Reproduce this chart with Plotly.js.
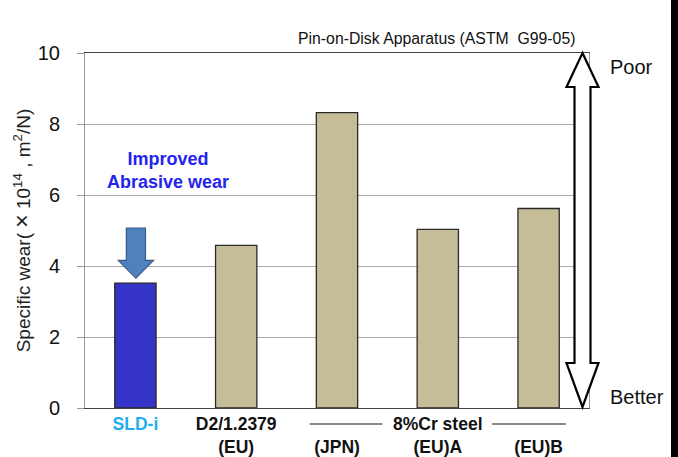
<!DOCTYPE html>
<html>
<head>
<meta charset="utf-8">
<script src="https://cdn.plot.ly/plotly-3.0.1.min.js"></script>
<style>html,body{margin:0;padding:0;background:#fff;}#chart{width:678px;height:457px;}</style>
</head>
<body>
<div id="chart"></div>
<script>
// ---- data ----
const categories = ["SLD-i", "D2/1.2379 (EU)", "8%Cr steel (JPN)", "8%Cr steel (EU)A", "8%Cr steel (EU)B"];
const wearValues = [3.52, 4.58, 8.32, 5.03, 5.62];
const tickLine1 = ["SLD-i", "D2/1.2379", "", "", ""];
const tickLine2 = ["", "(EU)", "(JPN)", "(EU)A", "(EU)B"];
const yTicks = [0, 2, 4, 6, 8, 10];
const groupLabel = "8%Cr steel";
const chartTitle = "Pin-on-Disk Apparatus (ASTM  G99-05)";
const yTitle = "Specific wear( <span style=\"font-size:23px\">×</span> 10<sup>14</sup> , m<sup>2</sup>/N)";

// ---- build ----
const xIdx = categories.map((c, i) => i);
const barColors = categories.map((c, i) => i === 0 ? "#3434C8" : "#C4BD97");
const tickText = categories.map((c, i) => {
  const l1 = tickLine1[i], l2 = tickLine2[i];
  const col = i === 0 ? "#20AEEE" : "#111";
  let s = l1 ? `<span style="color:${col}"><b>${l1}</b></span>` : "\u00a0";
  if (l2) s += `<br><b>${l2}</b>`;
  return s;
});

// plot geometry helpers (for decorations only)
const M = {l: 85, r: 89, t: 53, b: 49};
const W = 678, H = 457;
const pw = W - M.l - M.r, ph = H - M.t - M.b;
const px = x => (x - M.l) / pw;   // pixel -> paper x
const py = y => (H - M.b - y) / ph; // pixel -> paper y

// big white double arrow (Poor <-> Better)
const ax = [566.5, 574.5, 582.5, 590.5, 598.5];
const ay = [53, 87, 363, 407];
const dbl = `M ${px(ax[2])} ${py(ay[0])} L ${px(ax[4])} ${py(ay[1])} L ${px(ax[3])} ${py(ay[1])} L ${px(ax[3])} ${py(ay[2])} L ${px(ax[4])} ${py(ay[2])} L ${px(ax[2])} ${py(ay[3])} L ${px(ax[0])} ${py(ay[2])} L ${px(ax[1])} ${py(ay[2])} L ${px(ax[1])} ${py(ay[1])} L ${px(ax[0])} ${py(ay[1])} Z`;

// blue down arrow above first bar (x in category units, y in data units)
const c0 = xIdx[0];
const dn = `M ${c0-0.09} 5.07 L ${c0+0.10} 5.07 L ${c0+0.10} 4.16 L ${c0+0.18} 4.16 L ${c0+0.005} 3.66 L ${c0-0.17} 4.16 L ${c0-0.09} 4.16 Z`;

const trace = {
  type: "bar",
  x: xIdx,
  y: wearValues,
  width: 0.41,
  marker: {color: barColors, line: {color: "#2a2a2a", width: 1.3}},
  hoverinfo: "x+y"
};

const layout = {
  width: W, height: H,
  margin: M,
  paper_bgcolor: "#fff",
  plot_bgcolor: "#fff",
  showlegend: false,
  font: {family: "Liberation Sans, Arial, sans-serif", color: "#111"},
  xaxis: {
    range: [-0.5, 4.5],
    tickmode: "array",
    tickvals: xIdx,
    ticktext: tickText,
    ticks: "",
    showgrid: false,
    zeroline: false,
    showline: true,
    linecolor: "#444",
    linewidth: 1,
    mirror: true,
    tickfont: {size: 17.5, color: "#111"},
    fixedrange: true
  },
  yaxis: {
    range: [0, 10],
    tickmode: "array",
    tickvals: yTicks,
    ticks: "outside",
    ticklen: 7,
    tickcolor: "#999",
    ticklabelstandoff: 13,
    showgrid: true,
    gridcolor: "#aaa",
    gridwidth: 1,
    zeroline: false,
    showline: true,
    linecolor: "#999",
    linewidth: 1,
    mirror: true,
    tickfont: {size: 20, color: "#111"},
    title: {text: yTitle, font: {size: 19, color: "#222"}, standoff: 2},
    fixedrange: true
  },
  shapes: [
    {type: "path", xref: "paper", yref: "paper", path: dbl, fillcolor: "#fff", line: {color: "#000", width: 2.2}, layer: "above"},
    {type: "path", xref: "x", yref: "y", path: dn, fillcolor: "#4F81BD", line: {color: "#385D8A", width: 1.2}, layer: "above"},
    {type: "line", xref: "x", yref: "paper", x0: 1.73, x1: 2.45, y0: py(424), y1: py(424), line: {color: "#111", width: 1.2}},
    {type: "line", xref: "x", yref: "paper", x0: 3.54, x1: 4.27, y0: py(424), y1: py(424), line: {color: "#111", width: 1.2}},
    {type: "rect", xref: "paper", yref: "paper", x0: px(671), x1: px(690), y0: py(470), y1: py(-10), fillcolor: "#000", line: {width: 0}, layer: "above"}
  ],
  annotations: [
    {text: chartTitle, xref: "paper", yref: "paper", x: px(577), y: py(38), xanchor: "right", yanchor: "middle", showarrow: false, font: {size: 15.8, color: "#111"}},
    {text: "<b>Improved<br>Abrasive wear</b>", xref: "paper", yref: "paper", x: px(168), y: py(170), xanchor: "center", yanchor: "middle", showarrow: false, font: {size: 18, color: "#2424EE"}},
    {text: "<b>" + groupLabel + "</b>", xref: "x", yref: "paper", x: 3, y: py(424), xanchor: "center", yanchor: "middle", showarrow: false, font: {size: 17.5, color: "#111"}},
    {text: "Poor", xref: "paper", yref: "paper", x: px(608), y: py(67), xanchor: "left", yanchor: "middle", showarrow: false, font: {size: 20, color: "#111"}},
    {text: "Better", xref: "paper", yref: "paper", x: px(608), y: py(397), xanchor: "left", yanchor: "middle", showarrow: false, font: {size: 20, color: "#111"}}
  ]
};

Plotly.newPlot("chart", [trace], layout, {displayModeBar: false, staticPlot: true});
</script>
</body>
</html>
